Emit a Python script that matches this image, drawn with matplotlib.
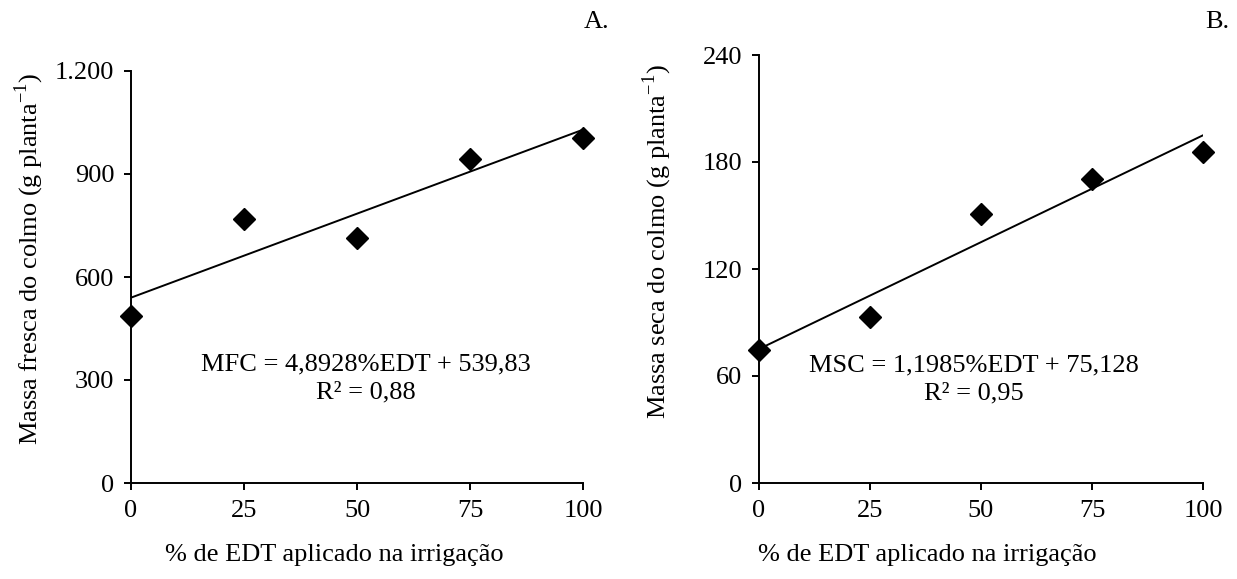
import numpy as np
import matplotlib
matplotlib.use('Agg')
import matplotlib.pyplot as plt

# dose de EDT (% da evapotranspiracao) e massas do colmo
edt = [0, 25, 50, 75, 100]
mfc = [485, 769, 713, 945, 1006]       # massa fresca (g planta-1)
msc = [74.6, 93.2, 151.1, 170.7, 185.8]  # massa seca (g planta-1)

# coeficientes das regressoes (como no grafico)
mfc_coef = [4.8928, 539.83]
msc_coef = [1.1985, 75.128]

yticks_a = [0, 300, 600, 900, 1200]
ylabels_a = ['0', '300', '600', '900', '1.200']
yticks_b = [0, 60, 120, 180, 240]

plt.rcParams['font.family'] = ['Liberation Serif', 'DejaVu Serif']
plt.rcParams['mathtext.fontset'] = 'custom'
plt.rcParams['mathtext.rm'] = 'Liberation Serif'
plt.rcParams['font.size'] = 19

fig = plt.figure(figsize=(12.37, 5.79), dpi=100)
axA = fig.add_axes([131/1237, 96/579, 452/1237, 412/579])
axB = fig.add_axes([759/1237, 96/579, 444/1237, 428/579])


def painel(ax, y, coef, yticks, ylabels, ylab, txt, txt_xy, lab_xy):
    x = np.array([0, 100])
    ax.plot(x, coef[0]*x + coef[1], color='black', lw=1.4, zorder=2)
    ax.plot(edt, y, 'D', color='black', markersize=11, zorder=3, clip_on=False)
    ax.set_xlim(0, 100)
    ax.set_ylim(0, yticks[-1])
    ax.set_xticks(edt)
    ax.set_yticks(yticks)
    ax.set_yticklabels(ylabels)
    for s in ['top', 'right']:
        ax.spines[s].set_visible(False)
    for s in ['left', 'bottom']:
        ax.spines[s].set_linewidth(1.4)
    ax.tick_params(direction='out', length=5, width=1.4, pad=7, labelsize=19)
    h = ax.get_position().height * 579
    w = ax.get_position().width * 1237
    ax.set_xlabel('% de EDT aplicado na irrigação', fontsize=19, va='center')
    ax.xaxis.set_label_coords(lab_xy[0], -72 / h)
    ax.set_ylabel(ylab, fontsize=19, va='center')
    ax.yaxis.set_label_coords(-102 / w, lab_xy[1])
    ax.text(txt_xy[0], txt_xy[1], txt, ha='center', va='center',
            fontsize=19, linespacing=1.35)


painel(axA, mfc, mfc_coef, yticks_a, ylabels_a,
       r'Massa fresca do colmo (g planta$^{\mathregular{-1}}$)',
       'MFC = 4,8928%EDT + 539,83\nR² = 0,88', (52, 305),
       (0.45, 0.545))
painel(axB, msc, msc_coef, yticks_b, [str(v) for v in yticks_b],
       r'Massa seca do colmo (g planta$^{\mathregular{-1}}$)',
       'MSC = 1,1985%EDT + 75,128\nR² = 0,95', (48.3, 58),
       (0.38, 0.565))

fig.text(597/1237, 1 - 22/579, 'A.', ha='center', va='center', fontsize=19)
fig.text(1217/1237, 1 - 22/579, 'B.', ha='center', va='center', fontsize=19)

fig.savefig('out.png', dpi=100)
